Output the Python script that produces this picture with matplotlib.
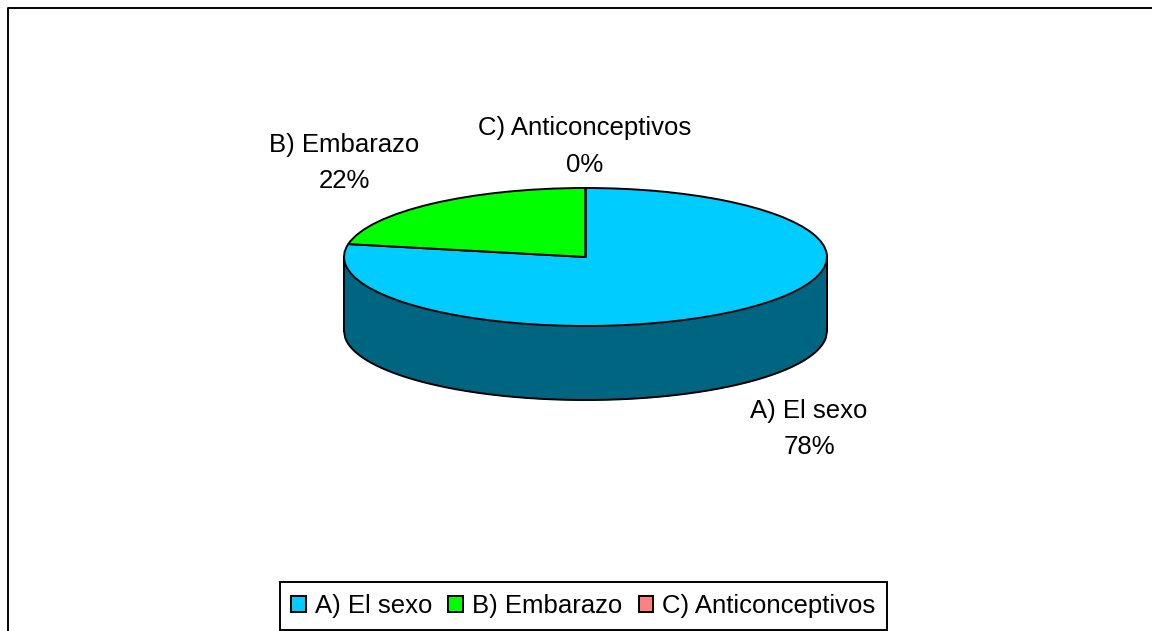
import numpy as np
import matplotlib
matplotlib.use("Agg")
import matplotlib.pyplot as plt
from matplotlib.lines import Line2D

plt.rcParams['font.family'] = ['Liberation Sans', 'DejaVu Sans']

# Data
categories = ["A) El sexo", "B) Embarazo", "C) Anticonceptivos"]
values = [78, 22, 0]
colors = ["#00CCFF", "#00FF00", "#FF8080"]
side_color = "#006580"

W, H = 1152, 631
fig = plt.figure(figsize=(W / 100, H / 100), dpi=100, facecolor="white")

# pie body in pixels
left, right = 344, 827
top, rim_bottom = 188, 326
depth = 74 / 69  # thickness in units of the short radius
lw = 1.4

ax = fig.add_axes([left / W, 1 - (rim_bottom + 74) / H, (right - left) / W, (rim_bottom + 74 - top) / H])

# side of the disc first, top face over it
x = np.linspace(-1, 1, 400)
rim = -np.sqrt(1 - x ** 2)
ax.fill_between(x, rim, rim - depth, color=side_color, linewidth=0, zorder=1)
ax.plot(x, rim - depth, color="black", lw=lw, zorder=2, clip_on=False)
ax.plot([-1, -1], [0, -depth], color="black", lw=lw, zorder=2, clip_on=False)
ax.plot([1, 1], [0, -depth], color="black", lw=lw, zorder=2, clip_on=False)

wedges, _ = ax.pie(values, colors=colors, startangle=90, counterclock=False, radius=1,
                   wedgeprops={"edgecolor": "black", "linewidth": lw, "zorder": 3, "clip_on": False})
ax.set_aspect("auto")
ax.set_xlim(-1, 1)
ax.set_ylim(-1 - depth, 1)
ax.axis("off")


def fx(px):
    return px / W


def fy(py):
    return 1 - py / H


# data labels
label_pos = [(809, 429), (344, 163), (585, 146.5)]
for name, val, (lx, ly) in zip(categories, values, label_pos):
    fig.text(fx(lx), fy(ly), f"{name}\n{val}%", ha="center", va="center",
             fontsize=18.5, linespacing=1.68, color="black")

# outer chart frame, open on the right and bottom
fig.add_artist(Line2D([fx(7.5), fx(7.5), 1], [0, fy(8), fy(8)], color="black", lw=lw))

leg = fig.legend(wedges, categories, loc="center", bbox_to_anchor=(fx(583.5), fy(606)),
                 ncol=3, fontsize=18.5, frameon=True, fancybox=False, framealpha=1,
                 edgecolor="black", handlelength=0.58, handleheight=0.58, handletextpad=0.35,
                 columnspacing=0.62, borderpad=0.45, borderaxespad=0)
leg.get_frame().set_linewidth(lw)

fig.savefig("out.png", dpi=100)
plt.close(fig)
